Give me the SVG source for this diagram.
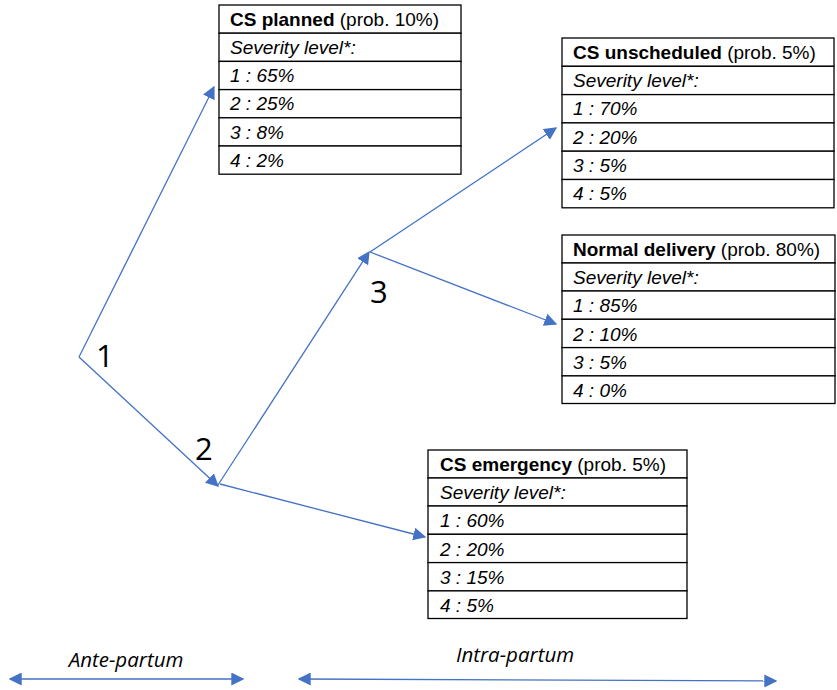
<svg xmlns="http://www.w3.org/2000/svg" width="837" height="690" viewBox="0 0 837 690">
<style>
.cell{fill:#fff;stroke:#000;stroke-width:1.3}
.t{font-family:"Liberation Sans",Arial,sans-serif;font-size:19px;fill:#000}
.b{font-weight:bold}
.i{font-style:italic}
.num{font-family:"Open Sans","Liberation Sans",sans-serif;font-size:31px;fill:#000}
.lbl{font-family:"Open Sans","Liberation Sans",sans-serif;font-size:20.5px;font-style:italic;fill:#000}
.c{stroke:#4472C4;stroke-width:1.3;fill:none}
</style>
<defs>
<marker id="ah" viewBox="0 0 10 10" refX="9" refY="5" markerWidth="13" markerHeight="13" markerUnits="userSpaceOnUse" orient="auto">
<path d="M0,0 L10,5 L0,10 Z" fill="#4472C4"/>
</marker>
<marker id="as" viewBox="0 0 10 10" refX="1" refY="5" markerWidth="13" markerHeight="13" markerUnits="userSpaceOnUse" orient="auto">
<path d="M10,0 L0,5 L10,10 Z" fill="#4472C4"/>
</marker>
</defs>

<g id="connectors">
<line class="c" x1="79" y1="357" x2="214" y2="87" marker-end="url(#ah)"/>
<line class="c" x1="79" y1="357" x2="218" y2="486" marker-end="url(#ah)"/>
<line class="c" x1="218" y1="485" x2="369" y2="252" marker-end="url(#ah)"/>
<line class="c" x1="220" y1="484" x2="425" y2="537" marker-end="url(#ah)"/>
<line class="c" x1="370" y1="252" x2="556" y2="128" marker-end="url(#ah)"/>
<line class="c" x1="370" y1="252" x2="556" y2="324" marker-end="url(#ah)"/>
<line class="c" x1="10" y1="679" x2="243" y2="679" marker-start="url(#as)" marker-end="url(#ah)"/>
<line class="c" x1="299" y1="679" x2="776" y2="681" marker-start="url(#as)" marker-end="url(#ah)"/>
</g>

<g id="labels">
<text class="num" x="96" y="367">1</text>
<text class="num" x="195" y="460">2</text>
<text class="num" x="370" y="303">3</text>
<text class="lbl" x="126" y="667" text-anchor="middle">Ante-partum</text>
<text class="lbl" x="515" y="662" text-anchor="middle">Intra-partum</text>
</g>

<g id="cs-planned">
<rect class="cell" x="219" y="5" width="242" height="28.2"/>
<rect class="cell" x="219" y="33.2" width="242" height="28.2"/>
<rect class="cell" x="219" y="61.4" width="242" height="28.2"/>
<rect class="cell" x="219" y="89.6" width="242" height="28.2"/>
<rect class="cell" x="219" y="117.8" width="242" height="28.2"/>
<rect class="cell" x="219" y="146" width="242" height="28.2"/>
<text class="t" x="230" y="26"><tspan class="b">CS planned</tspan> (prob. 10%)</text>
<text class="t i" x="230" y="54">Severity level*:</text>
<text class="t i" x="230" y="82">1 : 65%</text>
<text class="t i" x="230" y="110">2 : 25%</text>
<text class="t i" x="230" y="139">3 : 8%</text>
<text class="t i" x="230" y="167">4 : 2%</text>
</g>

<g id="cs-unscheduled">
<rect class="cell" x="562" y="38" width="272" height="28.3"/>
<rect class="cell" x="562" y="66.3" width="272" height="28.3"/>
<rect class="cell" x="562" y="94.6" width="272" height="28.3"/>
<rect class="cell" x="562" y="122.9" width="272" height="28.3"/>
<rect class="cell" x="562" y="151.2" width="272" height="28.3"/>
<rect class="cell" x="562" y="179.5" width="272" height="28.3"/>
<text class="t" x="573" y="59"><tspan class="b">CS unscheduled</tspan> (prob. 5%)</text>
<text class="t i" x="573" y="87">Severity level*:</text>
<text class="t i" x="573" y="115">1 : 70%</text>
<text class="t i" x="573" y="144">2 : 20%</text>
<text class="t i" x="573" y="172">3 : 5%</text>
<text class="t i" x="573" y="200">4 : 5%</text>
</g>

<g id="normal-delivery">
<rect class="cell" x="562" y="235" width="273" height="28"/>
<rect class="cell" x="562" y="263" width="273" height="28"/>
<rect class="cell" x="562" y="291" width="273" height="28.3"/>
<rect class="cell" x="562" y="319.3" width="273" height="28.3"/>
<rect class="cell" x="562" y="347.6" width="273" height="28.3"/>
<rect class="cell" x="562" y="375.9" width="273" height="27.6"/>
<text class="t" x="573" y="256"><tspan class="b">Normal delivery</tspan> (prob. 80%)</text>
<text class="t i" x="573" y="284">Severity level*:</text>
<text class="t i" x="573" y="312">1 : 85%</text>
<text class="t i" x="573" y="341">2 : 10%</text>
<text class="t i" x="573" y="369">3 : 5%</text>
<text class="t i" x="573" y="397">4 : 0%</text>
</g>

<g id="cs-emergency">
<rect class="cell" x="428" y="450" width="259" height="28"/>
<rect class="cell" x="428" y="478" width="259" height="28"/>
<rect class="cell" x="428" y="506" width="259" height="28.3"/>
<rect class="cell" x="428" y="534.3" width="259" height="28.3"/>
<rect class="cell" x="428" y="562.6" width="259" height="28.3"/>
<rect class="cell" x="428" y="590.9" width="259" height="27.6"/>
<text class="t" x="440" y="471"><tspan class="b">CS emergency</tspan> (prob. 5%)</text>
<text class="t i" x="440" y="499">Severity level*:</text>
<text class="t i" x="440" y="527">1 : 60%</text>
<text class="t i" x="440" y="556">2 : 20%</text>
<text class="t i" x="440" y="584">3 : 15%</text>
<text class="t i" x="440" y="612">4 : 5%</text>
</g>
</svg>
